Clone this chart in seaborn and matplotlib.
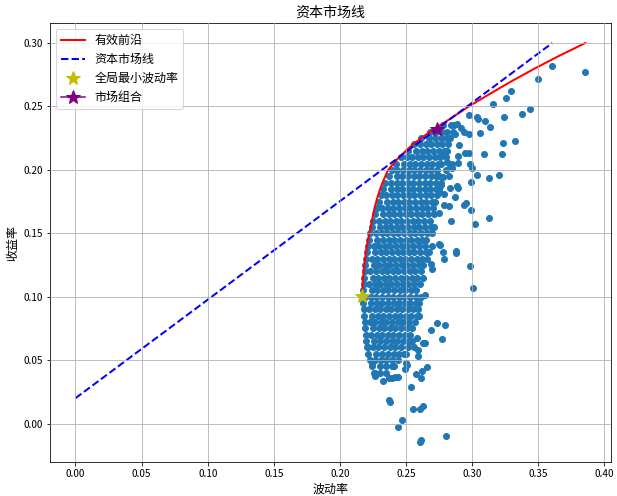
import numpy as np
import pandas as pd
import matplotlib
matplotlib.use('Agg')
import matplotlib.pyplot as plt
import seaborn as sns

plt.rcParams['font.family'] = ['Noto Sans CJK SC', 'DejaVu Sans']
plt.rcParams['axes.unicode_minus'] = False

# dense part of the random portfolios: one row per return level, x = volatility
core_y = [0.040, 0.045, 0.050, 0.055, 0.060, 0.065, 0.070, 0.075, 0.080, 0.085,
          0.090, 0.095, 0.100, 0.105, 0.110, 0.115, 0.120, 0.125, 0.130, 0.135,
          0.140, 0.145, 0.150, 0.155, 0.160, 0.165, 0.170, 0.175, 0.180, 0.185,
          0.190, 0.195, 0.200, 0.205, 0.210, 0.215, 0.220, 0.225, 0.230, 0.235]
core_x = [
    [0.2262, 0.2300, 0.2345],
    [0.2245, 0.2306, 0.2351, 0.2393, 0.2410],
    [0.2228, 0.2268, 0.2310, 0.2352, 0.2395, 0.2440],
    [0.2215, 0.2276, 0.2319, 0.2361, 0.2406, 0.2446, 0.2486, 0.2502],
    [0.2208, 0.2248, 0.2290, 0.2335, 0.2378, 0.2420, 0.2460, 0.2515, 0.2560],
    [0.2200, 0.2261, 0.2303, 0.2347, 0.2391, 0.2432, 0.2476, 0.2520, 0.2545],
    [0.2195, 0.2236, 0.2278, 0.2320, 0.2362, 0.2402, 0.2448, 0.2490, 0.2528],
    [0.2190, 0.2251, 0.2293, 0.2336, 0.2379, 0.2419, 0.2461, 0.2506, 0.2546],
    [0.2186, 0.2226, 0.2268, 0.2310, 0.2352, 0.2395, 0.2438, 0.2480, 0.2522, 0.2570],
    [0.2183, 0.2243, 0.2286, 0.2327, 0.2371, 0.2413, 0.2453, 0.2496, 0.2539, 0.2581, 0.2598],
    [0.2181, 0.2220, 0.2262, 0.2304, 0.2346, 0.2388, 0.2430, 0.2472, 0.2515, 0.2555, 0.2590],
    [0.2176, 0.2237, 0.2279, 0.2321, 0.2363, 0.2406, 0.2449, 0.2491, 0.2533, 0.2576, 0.2600],
    [0.2190, 0.2232, 0.2275, 0.2318, 0.2360, 0.2402, 0.2445, 0.2488, 0.2530, 0.2572, 0.2612],
    [0.2178, 0.2239, 0.2281, 0.2323, 0.2366, 0.2409, 0.2451, 0.2493, 0.2536, 0.2579],
    [0.2181, 0.2222, 0.2264, 0.2306, 0.2348, 0.2390, 0.2432, 0.2475, 0.2518, 0.2560, 0.2605],
    [0.2185, 0.2247, 0.2289, 0.2331, 0.2373, 0.2416, 0.2459, 0.2501, 0.2543, 0.2586, 0.2625],
    [0.2189, 0.2230, 0.2272, 0.2315, 0.2358, 0.2400, 0.2442, 0.2485, 0.2528, 0.2570, 0.2615],
    [0.2193, 0.2255, 0.2297, 0.2339, 0.2381, 0.2423, 0.2466, 0.2509, 0.2551, 0.2596, 0.2632],
    [0.2198, 0.2240, 0.2282, 0.2325, 0.2368, 0.2410, 0.2452, 0.2495, 0.2538, 0.2580, 0.2622, 0.2660],
    [0.2203, 0.2266, 0.2309, 0.2351, 0.2393, 0.2436, 0.2479, 0.2521, 0.2563, 0.2606, 0.2649, 0.2675],
    [0.2213, 0.2255, 0.2298, 0.2340, 0.2382, 0.2425, 0.2468, 0.2510, 0.2552, 0.2595, 0.2640, 0.2695],
    [0.2221, 0.2283, 0.2326, 0.2369, 0.2411, 0.2453, 0.2496, 0.2539, 0.2581, 0.2623, 0.2648],
    [0.2231, 0.2272, 0.2315, 0.2358, 0.2400, 0.2442, 0.2485, 0.2528, 0.2570, 0.2612, 0.2655, 0.2698],
    [0.2240, 0.2303, 0.2346, 0.2389, 0.2431, 0.2473, 0.2516, 0.2559, 0.2601, 0.2643, 0.2686, 0.2715],
    [0.2253, 0.2295, 0.2338, 0.2380, 0.2422, 0.2465, 0.2508, 0.2550, 0.2592, 0.2635, 0.2680],
    [0.2265, 0.2327, 0.2369, 0.2411, 0.2453, 0.2496, 0.2539, 0.2581, 0.2623, 0.2666, 0.2711],
    [0.2278, 0.2320, 0.2362, 0.2405, 0.2448, 0.2490, 0.2532, 0.2575, 0.2618, 0.2660, 0.2705],
    [0.2293, 0.2356, 0.2399, 0.2441, 0.2483, 0.2526, 0.2569, 0.2611, 0.2653, 0.2696, 0.2720],
    [0.2308, 0.2350, 0.2392, 0.2435, 0.2478, 0.2520, 0.2562, 0.2605, 0.2648, 0.2690, 0.2735],
    [0.2325, 0.2387, 0.2429, 0.2471, 0.2513, 0.2556, 0.2599, 0.2641, 0.2683, 0.2726, 0.2750],
    [0.2343, 0.2385, 0.2428, 0.2470, 0.2512, 0.2555, 0.2598, 0.2640, 0.2682, 0.2725, 0.2765],
    [0.2368, 0.2431, 0.2473, 0.2516, 0.2559, 0.2601, 0.2643, 0.2686, 0.2729, 0.2750],
    [0.2393, 0.2435, 0.2478, 0.2520, 0.2562, 0.2605, 0.2648, 0.2690, 0.2735],
    [0.2423, 0.2486, 0.2529, 0.2571, 0.2613, 0.2656, 0.2699, 0.2741, 0.2765],
    [0.2463, 0.2505, 0.2548, 0.2590, 0.2632, 0.2675, 0.2718, 0.2760, 0.2800],
    [0.2512, 0.2576, 0.2619, 0.2661, 0.2703, 0.2746, 0.2789, 0.2810],
    [0.2562, 0.2605, 0.2648, 0.2690, 0.2732, 0.2775, 0.2818],
    [0.2612, 0.2676, 0.2719, 0.2761, 0.2803, 0.2825],
    [0.2685, 0.2728, 0.2770, 0.2812, 0.2855],
    [0.2780, 0.2841, 0.2862],
]

# scattered portfolios outside the dense part
outer_x = [0.3856, 0.3606, 0.3500, 0.3295, 0.3258, 0.3159, 0.3440, 0.3379, 0.3242, 0.2975,
           0.3040, 0.3043, 0.3098, 0.3134, 0.3061, 0.3326, 0.3235, 0.2900, 0.3091, 0.3222,
           0.2947, 0.2975, 0.2890, 0.2890, 0.2985, 0.3000, 0.3038, 0.3129, 0.3200, 0.2992,
           0.2886, 0.2890, 0.2830, 0.2869, 0.2950, 0.2942, 0.2992, 0.3126, 0.3018, 0.2840,
           0.2785, 0.2828, 0.2753, 0.2750, 0.2879, 0.2884, 0.2912, 0.2942, 0.2975, 0.2783,
           0.2828, 0.2768, 0.2800, 0.2850, 0.2830, 0.2870, 0.2810, 0.2831, 0.2851, 0.2778,
           0.2753, 0.2790,
           0.2881, 0.2985, 0.3003, 0.2754, 0.2784, 0.2736, 0.2797, 0.2690, 0.2772, 0.2632,
           0.2647, 0.2581, 0.2591, 0.2591, 0.2523, 0.2660, 0.2622, 0.2614, 0.2576, 0.2538,
           0.2495, 0.2505, 0.2439, 0.2419, 0.2393, 0.2373, 0.2322, 0.2267, 0.2259, 0.2239,
           0.2368, 0.2378, 0.2553, 0.2602, 0.2627, 0.2470, 0.2439, 0.2802, 0.2607, 0.2614,
           0.2211, 0.2690, 0.2700, 0.2640, 0.2780, 0.2499]
outer_y = [0.2772, 0.2820, 0.2714, 0.2622, 0.2566, 0.2519, 0.2476, 0.2439, 0.2413, 0.2429,
           0.2413, 0.2400, 0.2389, 0.2341, 0.2288, 0.2225, 0.2214, 0.2198, 0.2127, 0.2127,
           0.2135, 0.2130, 0.2110, 0.2056, 0.2048, 0.2016, 0.1960, 0.1937, 0.1960, 0.1905,
           0.1876, 0.1860, 0.1860, 0.1788, 0.1738, 0.1720, 0.1683, 0.1619, 0.1571, 0.1600,
           0.1722, 0.1712, 0.1659, 0.1413, 0.1360, 0.2365, 0.2333, 0.2300, 0.2280, 0.2132,
           0.1950, 0.1884, 0.2000, 0.2050, 0.2250, 0.2280, 0.2063, 0.2037, 0.2016, 0.1942,
           0.1836, 0.1810,
           0.1341, 0.1246, 0.1071, 0.1405, 0.1294, 0.0794, 0.0780, 0.0738, 0.0667, 0.0638,
           0.0638, 0.0677, 0.0579, 0.0532, 0.0645, 0.0444, 0.0413, 0.0357, 0.0392, 0.0288,
           0.0434, 0.0458, 0.0365, 0.0368, 0.0362, 0.0362, 0.0339, 0.0378, 0.0400, 0.0479,
           0.0188, 0.0167, 0.0111, 0.0116, 0.0138, 0.0029, -0.0029, -0.0100, -0.0146, -0.0130,
           0.0606, 0.1260, 0.1220, 0.1010, 0.1350, 0.0480]

# efficient frontier
frontier_vol = [0.2170, 0.2172, 0.2179, 0.2190, 0.2204, 0.2222, 0.2242, 0.2262, 0.2288, 0.2322,
                0.2365, 0.2447, 0.2550, 0.2680, 0.2830, 0.2975, 0.3135, 0.3300, 0.3475, 0.3660,
                0.3856]
frontier_ret = [0.1003, 0.110, 0.120, 0.130, 0.140, 0.150, 0.160, 0.170, 0.180, 0.190,
                0.200, 0.210, 0.220, 0.230, 0.240, 0.250, 0.260, 0.270, 0.280, 0.290,
                0.300]

# capital market line
cml_vol = [0.0, 0.3606]
cml_ret = [0.02, 0.30]

min_vol_point = (0.2170, 0.1003)
market_point = (0.2732, 0.2321)

rows = []
for y, xs in zip(core_y, core_x):
    for x in xs:
        rows.append((x, y))
rows += list(zip(outer_x, outer_y))
df = pd.DataFrame(rows, columns=['vol', 'ret'])
df_front = pd.DataFrame({'vol': frontier_vol, 'ret': frontier_ret})

fig = plt.figure(figsize=(617 / 72, 496 / 72), dpi=72)
ax = fig.add_axes([0.081, 0.0685, 0.909, 0.885])

sns.scatterplot(data=df, x='vol', y='ret', ax=ax, color='#1f77b4', s=36,
                edgecolor='#1f77b4', linewidth=1)
ax.plot(df_front['vol'], df_front['ret'], color='red', linewidth=2, label='有效前沿')
ax.plot(cml_vol, cml_ret, 'b--', linewidth=2, label='资本市场线')
ax.plot(min_vol_point[0], min_vol_point[1], 'y*', markersize=15, label='全局最小波动率')
ax.plot(market_point[0], market_point[1], marker='*', color='purple', markersize=15,
        label='市场组合')

ax.grid(True)
ax.set_axisbelow(False)
ax.set_title('资本市场线', fontsize=14)
ax.set_xlabel('波动率', fontsize=12)
ax.set_ylabel('收益率', fontsize=12)
ax.legend(loc='upper left', fontsize=12)

fig.savefig('out.png', dpi=72)
